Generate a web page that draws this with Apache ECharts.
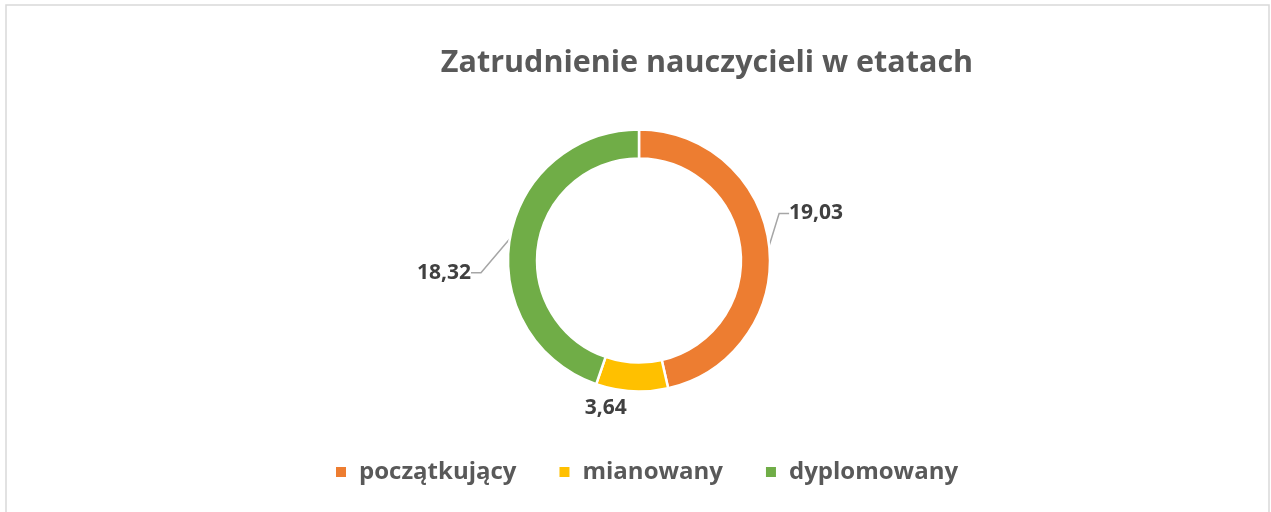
<!DOCTYPE html>
<html>
<head>
<meta charset="utf-8">
<script src="https://cdn.jsdelivr.net/npm/echarts@6/dist/echarts.min.js"></script>
<style>
  html, body { margin: 0; padding: 0; background: #fff; }
  #chart { width: 1271px; height: 512px; }
</style>
</head>
<body>
<div id="chart"></div>
<script>
// data
const categories = ['początkujący', 'mianowany', 'dyplomowany'];
const values = [19.03, 3.64, 18.32];
const colors = ['#ED7D31', '#FFC000', '#70AD47'];
const titleText = 'Zatrudnienie nauczycieli w etatach';

const chart = echarts.init(document.getElementById('chart'));

// nudge for each label, to sit like the original
const labelShiftX = [-7, 0, -12];
const labelShiftY = [-31, 15, 36];

const option = {
  animation: false,
  backgroundColor: '#fff',
  textStyle: { fontFamily: 'Open Sans' },
  graphic: [{
    type: 'rect',
    shape: { x: 6, y: 5, width: 1263, height: 520 },
    style: { fill: 'none', stroke: '#d9d9d9', lineWidth: 1.5 },
    silent: true
  }],
  title: {
    text: titleText,
    left: 702,
    top: 43,
    textAlign: 'center',
    textStyle: { fontFamily: 'Open Sans', fontWeight: 'bold', fontSize: 30.5, color: '#595959' }
  },
  legend: {
    data: categories,
    left: 329,
    top: 455,
    icon: 'rect',
    itemWidth: 12,
    itemHeight: 12,
    itemGap: 41,
    textStyle: { fontFamily: 'Open Sans', fontWeight: 'bold', fontSize: 24, color: '#595959', padding: [0, 0, 0, 7] }
  },
  series: [{
    type: 'pie',
    center: [639, 260.5],
    radius: [102, 131],
    startAngle: 90,
    clockwise: true,
    avoidLabelOverlap: false,
    itemStyle: { borderColor: '#fff', borderWidth: 2.5 },
    label: {
      show: true,
      position: 'outside',
      fontFamily: 'Open Sans',
      fontWeight: 'bold',
      fontSize: 21,
      color: '#404040',
      formatter: p => p.value.toFixed(2).replace('.', ',')
    },
    labelLine: {
      show: true,
      length: 12,
      length2: 10,
      lineStyle: { color: '#a6a6a6', width: 1.5 }
    },
    labelLayout: p => ({
      x: p.labelRect.x + labelShiftX[p.dataIndex],
      y: p.labelRect.y + labelShiftY[p.dataIndex],
      align: 'left',
      verticalAlign: 'top'
    }),
    emphasis: { disabled: true },
    data: categories.map((name, i) => {
      const item = { name: name, value: values[i], itemStyle: { color: colors[i] } };
      if (i === 1) item.labelLine = { show: false, length: 2, length2: 0 };
      return item;
    })
  }]
};

chart.setOption(option);
</script>
</body>
</html>
